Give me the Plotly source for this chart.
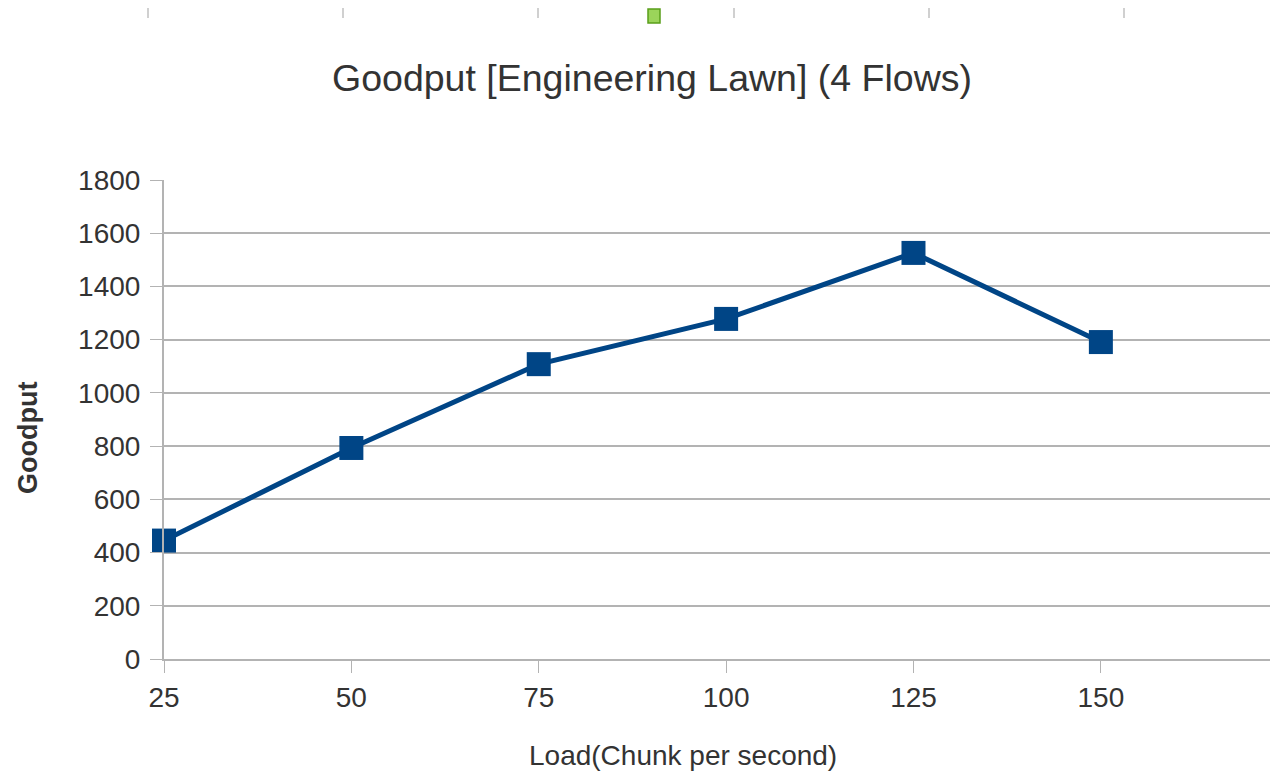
import plotly.graph_objects as go

loads = [25, 50, 75, 100, 125, 150]
goodput = [445, 793, 1108, 1278, 1526, 1191]
x_ticks = [25, 50, 75, 100, 125, 150]
y_ticks = [0, 200, 400, 600, 800, 1000, 1200, 1400, 1600, 1800]

OFF = 8  # default page body margin
W, H = 1278 - OFF, 772 - OFF
L, R, T, B = 164 - OFF, 1277 - OFF, 180 - OFF, 659 - OFF

def px(x):
    return (x - OFF - L) / (R - L)

def py(y):
    return (B - (y - OFF)) / (B - T)

fig = go.Figure()
fig.add_trace(go.Scatter(
    x=loads, y=goodput, mode="lines+markers",
    line=dict(color="#004586", width=5),
    marker=dict(symbol="square", size=24, color="#004586"),
    cliponaxis=False,
    showlegend=False,
))

text_color = "#333333"
font_family = "Liberation Sans, Arial, sans-serif"

shapes = []
for xp in [148, 343, 538, 734, 929, 1124]:
    shapes.append(dict(type="line", xref="paper", yref="paper",
                       x0=px(xp), x1=px(xp), y0=py(8), y1=py(18),
                       line=dict(color="#c0c0c0", width=1.5)))
shapes.append(dict(type="rect", xref="paper", yref="paper",
                   x0=px(648), x1=px(660), y0=py(23), y1=py(9),
                   line=dict(color="#5a9e1a", width=1.5), fillcolor="#9bd45a"))

annotations = [
    dict(text="Load(Chunk per second)", xref="paper", yref="paper",
         x=px(683), y=py(755), xanchor="center", yanchor="middle", showarrow=False,
         font=dict(size=28, color=text_color)),
    dict(text="<b>Goodput</b>", xref="paper", yref="paper",
         x=px(28), y=py(438), xanchor="center", yanchor="middle", showarrow=False,
         textangle=-90, font=dict(size=27, color=text_color)),
]

fig.update_layout(
    width=W, height=H,
    margin=dict(l=L, r=W - R, t=T, b=H - B),
    paper_bgcolor="white", plot_bgcolor="white",
    font=dict(family=font_family, color=text_color),
    title=dict(text="Goodput [Engineering Lawn] (4 Flows)", x=(652 - OFF) / W, xanchor="center",
               y=1 - (78 - OFF) / H, yanchor="middle", font=dict(size=37.5, color=text_color)),
    xaxis=dict(range=[25, 173.5], tickvals=x_ticks, ticks="outside", ticklen=12,
               tickcolor="#b3b3b3", showline=True, linecolor="#b3b3b3", linewidth=2,
               showgrid=False, zeroline=False, tickfont=dict(size=28, color=text_color)),
    yaxis=dict(range=[0, 1800], tickvals=y_ticks, ticks="outside", ticklen=12,
               tickcolor="#b3b3b3", showline=True, linecolor="#b3b3b3", linewidth=2,
               showgrid=True, gridcolor="#b3b3b3", gridwidth=2, zeroline=False,
               tickfont=dict(size=28, color=text_color), ticklabelstandoff=4),
    shapes=shapes,
    annotations=annotations,
)

fig.write_html("out.html")
